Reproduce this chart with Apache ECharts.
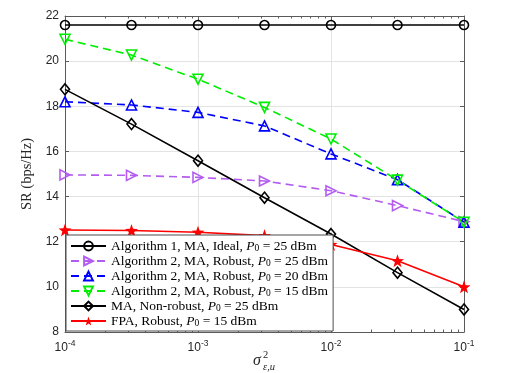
<!DOCTYPE html>
<html>
<head>
<meta charset="utf-8">
<title>SR vs sigma</title>
<script src="https://cdn.jsdelivr.net/npm/echarts@6/dist/echarts.min.js"></script>
<style>
  * { margin: 0; padding: 0; }
  body { background: #fff; }
  #main { width: 512px; height: 373px; }
</style>
</head>
<body>
<div id="main"></div>
<script>
// values
var xValues = [1e-4, 3.162e-4, 1e-3, 3.162e-3, 1e-2, 3.162e-2, 1e-1];
var ideal25 = [21.6, 21.6, 21.6, 21.6, 21.6, 21.6, 21.6];
var robust25 = [14.96, 14.94, 14.85, 14.69, 14.26, 13.6, 12.89];
var robust20 = [18.2, 18.06, 17.73, 17.13, 15.89, 14.75, 12.87];
var robust15 = [20.97, 20.27, 19.2, 17.95, 16.55, 14.73, 12.86];
var nonRobust25 = [18.75, 17.21, 15.59, 13.95, 12.34, 10.63, 9.0];
var fpa15 = [12.52, 12.5, 12.42, 12.27, 11.88, 11.16, 10.0];

var seriesNames = [
  'Algorithm 1, MA, Ideal, ',
  'Algorithm 2, MA, Robust, ',
  'Algorithm 2, MA, Robust,  ',
  'Algorithm 2, MA, Robust,   ',
  'MA, Non-robust, ',
  'FPA, Robust, '
];
var powers = ['25', '25', '20', '15', '25', '15'];

// minor tick marks of the log axis (2..9 x 10^k), as decade exponents
var minorTicks = [];
[-4, -3, -2].forEach(function (e) {
  for (var k = 2; k <= 9; k++) minorTicks.push(e + Math.log10(k));
});

var axisGray = '#5a5a5a';
var serif = 'Liberation Serif';
var sans = 'Liberation Sans';

function pairs(ys) {
  var out = [];
  for (var i = 0; i < xValues.length; i++) out.push([xValues[i], ys[i]]);
  return out;
}

var starPath = 'path://M0,-10L2.35,-3.24L9.51,-3.09L3.8,1.24L5.88,8.09L0,4L-5.88,8.09L-3.8,1.24L-9.51,-3.09L-2.35,-3.24Z';

function mkSeries(idx, data, color, dash, symbol, size, rotate, filled) {
  return {
    name: seriesNames[idx],
    type: 'line',
    xAxisIndex: 0,
    yAxisIndex: 0,
    data: pairs(data),
    symbol: symbol,
    symbolSize: size,
    symbolRotate: rotate,
    showAllSymbol: true,
    color: color,
    lineStyle: { color: color, width: 1.6, type: dash ? [8, 5] : 'solid' },
    itemStyle: {
      color: filled ? color : 'rgba(255,255,255,0)',
      borderColor: color,
      borderWidth: filled ? 0 : 1.6
    },
    emphasis: { disabled: true },
    animation: false
  };
}

// decorative axes for the minor ticks (log10 space, same span as the main axis)
function minorAxis(pos) {
  return {
    type: 'value',
    min: -4,
    max: -1,
    position: pos,
    axisLine: { show: false },
    splitLine: { show: false },
    axisLabel: { show: false },
    axisTick: { show: true, inside: true, length: 2.5, customValues: minorTicks, lineStyle: { color: axisGray, width: 1 } }
  };
}

var myChart = echarts.init(document.getElementById('main'));
var option = {
  backgroundColor: '#fff',
  animation: false,
  grid: { left: 65, right: 48, top: 16, bottom: 41, show: false },
  xAxis: [
    {
      type: 'log',
      logBase: 10,
      min: 1e-4,
      max: 1e-1,
      position: 'bottom',
      axisLine: { show: true, onZero: false, lineStyle: { color: axisGray, width: 1 } },
      axisTick: { show: true, inside: true, length: 4, lineStyle: { color: axisGray, width: 1 } },
      splitLine: { show: true, lineStyle: { color: '#e3e3e3', width: 1 } },
      axisLabel: {
        show: true,
        margin: 7,
        formatter: function (v) {
          var e = Math.round(Math.log10(v));
          return '{b|10}{s|' + e + '}';
        },
        rich: {
          b: { fontFamily: sans, fontSize: 12, color: '#262626', lineHeight: 17 },
          s: { fontFamily: sans, fontSize: 8.5, color: '#262626', lineHeight: 9, verticalAlign: 'top' }
        }
      }
    },
    {
      type: 'log',
      logBase: 10,
      min: 1e-4,
      max: 1e-1,
      position: 'top',
      axisLine: { show: true, onZero: false, lineStyle: { color: axisGray, width: 1 } },
      axisTick: { show: true, inside: true, length: 4, lineStyle: { color: axisGray, width: 1 } },
      splitLine: { show: false },
      axisLabel: { show: false }
    },
    minorAxis('bottom'),
    minorAxis('top')
  ],
  yAxis: [
    {
      type: 'value',
      min: 8,
      max: 22,
      interval: 2,
      position: 'left',
      name: 'SR (bps/Hz)',
      nameLocation: 'middle',
      nameGap: 22,
      nameTextStyle: { fontFamily: serif, fontSize: 14.5, color: '#262626' },
      axisLine: { show: true, onZero: false, lineStyle: { color: axisGray, width: 1 } },
      axisTick: { show: true, inside: true, length: 4, lineStyle: { color: axisGray } },
      splitLine: { show: true, lineStyle: { color: '#e3e3e3', width: 1 } },
      axisLabel: { margin: 6, fontFamily: sans, fontSize: 12, color: '#262626' }
    },
    {
      type: 'value',
      min: 8,
      max: 22,
      interval: 2,
      position: 'right',
      axisLine: { show: true, onZero: false, lineStyle: { color: axisGray, width: 1 } },
      axisTick: { show: true, inside: true, length: 4, lineStyle: { color: axisGray } },
      splitLine: { show: false },
      axisLabel: { show: false }
    }
  ],
  legend: {
    orient: 'vertical',
    left: 66,
    top: 235,
    padding: [4, 5, 3, 4],
    itemWidth: 35,
    itemHeight: 11,
    itemGap: 1,
    backgroundColor: '#fff',
    borderColor: '#4d4d4d',
    borderWidth: 1,
    selectedMode: false,
    data: seriesNames,
    formatter: function (name) {
      var i = seriesNames.indexOf(name);
      return '{n|' + name.trim() + ' }{i|P}{s|0}{n| = ' + powers[i] + ' dBm}';
    },
    textStyle: {
      fontFamily: serif,
      fontSize: 13.5,
      color: '#000',
      rich: {
        n: { fontFamily: serif, fontSize: 13.5, color: '#000', lineHeight: 14 },
        i: { fontFamily: serif, fontSize: 13.5, fontStyle: 'italic', color: '#000', lineHeight: 14 },
        s: { fontFamily: serif, fontSize: 9.5, color: '#000', lineHeight: 9, verticalAlign: 'bottom' }
      }
    }
  },
  graphic: [
    { type: 'text', left: 253, top: 353, style: { text: 'σ', font: 'italic 16px "Liberation Serif"', fill: '#262626' } },
    { type: 'text', left: 263, top: 350, style: { text: '2', font: '10.5px "Liberation Serif"', fill: '#262626' } },
    { type: 'text', left: 263, top: 362, style: { text: 'ε,u', font: 'italic 10.5px "Liberation Serif"', fill: '#262626' } }
  ],
  series: [
    mkSeries(0, ideal25, '#000000', false, 'circle', 9, 0, false),
    mkSeries(1, robust25, '#b45cf0', true, 'triangle', 10, -90, false),
    mkSeries(2, robust20, '#0000ff', true, 'triangle', 10, 0, false),
    mkSeries(3, robust15, '#00ee00', true, 'triangle', 10, 180, false),
    mkSeries(4, nonRobust25, '#000000', false, 'diamond', [9, 11], 0, false),
    mkSeries(5, fpa15, '#ff0000', false, starPath, 13, 0, true)
  ]
};
myChart.setOption(option);
</script>
</body>
</html>
